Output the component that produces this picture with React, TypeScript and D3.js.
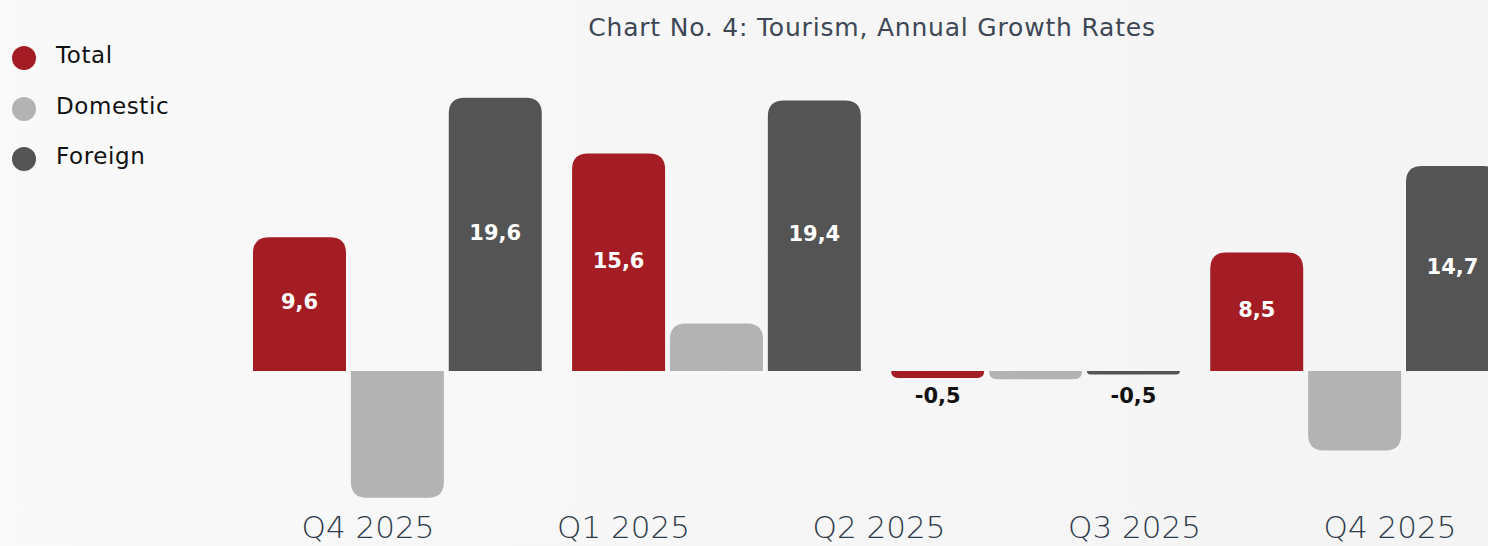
import React, { useEffect, useRef } from 'react';
import * as d3 from 'd3';

const tickLabels = ['Q4 2025', 'Q1 2025', 'Q2 2025', 'Q3 2025', 'Q4 2025'];
const groups = ['g1', 'g2', 'g3', 'g4'];
const seriesNames = ['Total', 'Domestic', 'Foreign'];
const seriesColors = ['#a51d24', '#b3b3b3', '#545454'];

const totalValues = [9.6, 15.6, -0.5, 8.5];
const domesticValues = [-9.1, 3.4, -0.6, -5.7];
const foreignValues = [19.6, 19.4, -0.25, 14.7];

// printed labels (null = no label on the bar)
const totalLabels = ['9,6', '15,6', '-0,5', '8,5'];
const domesticLabels = [null, null, null, null];
const foreignLabels = ['19,6', '19,4', '-0,5', '14,7'];

const FONT = "'DejaVu Sans', sans-serif";

const App: React.FC = () => {
  const svgRef = useRef<SVGSVGElement>(null);

  useEffect(() => {
    if (!svgRef.current) return;
    const width = 1488;
    const height = 546;
    const svg = d3.select(svgRef.current).html('');

    const defs = svg.append('defs');
    const grad = defs.append('linearGradient').attr('id', 'bg').attr('x1', '0').attr('x2', '1');
    grad.append('stop').attr('offset', '0%').attr('stop-color', '#f9f9f9');
    grad.append('stop').attr('offset', '100%').attr('stop-color', '#f4f4f4');
    svg.append('rect').attr('width', width).attr('height', height).attr('fill', 'url(#bg)');

    const series = [totalValues, domesticValues, foreignValues];
    const labels = [totalLabels, domesticLabels, foreignLabels];

    const x0 = d3.scaleBand<string>().domain(groups).range([253, 1499]).paddingInner(0.095);
    const x1 = d3.scaleBand<string>().domain(seriesNames).range([0, x0.bandwidth()]).paddingInner(0.05);
    const y = d3.scaleLinear().domain([-10, 20]).range([510.4, 92.2]);
    const xt = d3.scalePoint<string>().domain(tickLabels.map((_, i) => String(i))).range([368, 1390]);

    const r = 16;
    const barPath = (x: number, w: number, v: number) => {
      const y0 = y(0);
      const y1 = y(v);
      const h = Math.abs(y1 - y0);
      const rr = Math.min(r, h, w / 2);
      if (v >= 0) {
        return `M${x},${y0}V${y1 + rr}Q${x},${y1} ${x + rr},${y1}H${x + w - rr}Q${x + w},${y1} ${x + w},${y1 + rr}V${y0}Z`;
      }
      return `M${x},${y0}V${y1 - rr}Q${x},${y1} ${x + rr},${y1}H${x + w - rr}Q${x + w},${y1} ${x + w},${y1 - rr}V${y0}Z`;
    };

    const g = svg.append('g');
    groups.forEach((grp, gi) => {
      seriesNames.forEach((s, si) => {
        const v = series[si][gi];
        const bx = (x0(grp) ?? 0) + (x1(s) ?? 0);
        const bw = x1.bandwidth();
        g.append('path').attr('d', barPath(bx, bw, v)).attr('fill', seriesColors[si]);
        const lab = labels[si][gi];
        if (lab) {
          const inside = Math.abs(y(v) - y(0)) > 40;
          g.append('text')
            .attr('x', bx + bw / 2)
            .attr('y', inside ? (y(v) + y(0)) / 2 - 2 : y(0) + 25)
            .attr('dy', '0.35em')
            .attr('text-anchor', 'middle')
            .attr('font-family', FONT)
            .attr('font-weight', 'bold')
            .attr('font-size', 21)
            .attr('fill', inside ? '#ffffff' : '#111111')
            .text(lab);
        }
      });
    });

    // category labels
    svg.append('g')
      .selectAll('text')
      .data(tickLabels)
      .join('text')
      .attr('x', (_, i) => xt(String(i)) ?? 0)
      .attr('y', 538)
      .attr('text-anchor', 'middle')
      .attr('font-family', FONT)
      .attr('font-weight', 300)
      .attr('font-size', 31)
      .attr('fill', '#2e3b4b')
      .text(d => d);

    // title
    svg.append('text')
      .attr('x', 872)
      .attr('y', 36)
      .attr('text-anchor', 'middle')
      .attr('font-family', FONT)
      .attr('font-size', 25)
      .attr('letter-spacing', 0.8)
      .attr('fill', '#3d4756')
      .text('Chart No. 4: Tourism, Annual Growth Rates');

    // legend
    const legendY = [58, 109, 159];
    const lg = svg.append('g');
    seriesNames.forEach((s, i) => {
      lg.append('circle').attr('cx', 24).attr('cy', legendY[i]).attr('r', 12).attr('fill', seriesColors[i]);
      lg.append('text')
        .attr('x', 56)
        .attr('y', legendY[i] - 3)
        .attr('dy', '0.35em')
        .attr('font-family', FONT)
        .attr('font-size', 23)
        .attr('letter-spacing', 0.6)
        .attr('fill', '#111111')
        .text(s);
    });
  }, []);

  return (
    <svg
      ref={svgRef}
      width={1488}
      height={546}
      style={{ position: 'absolute', left: 0, top: 0, display: 'block' }}
    />
  );
};

export default App;
